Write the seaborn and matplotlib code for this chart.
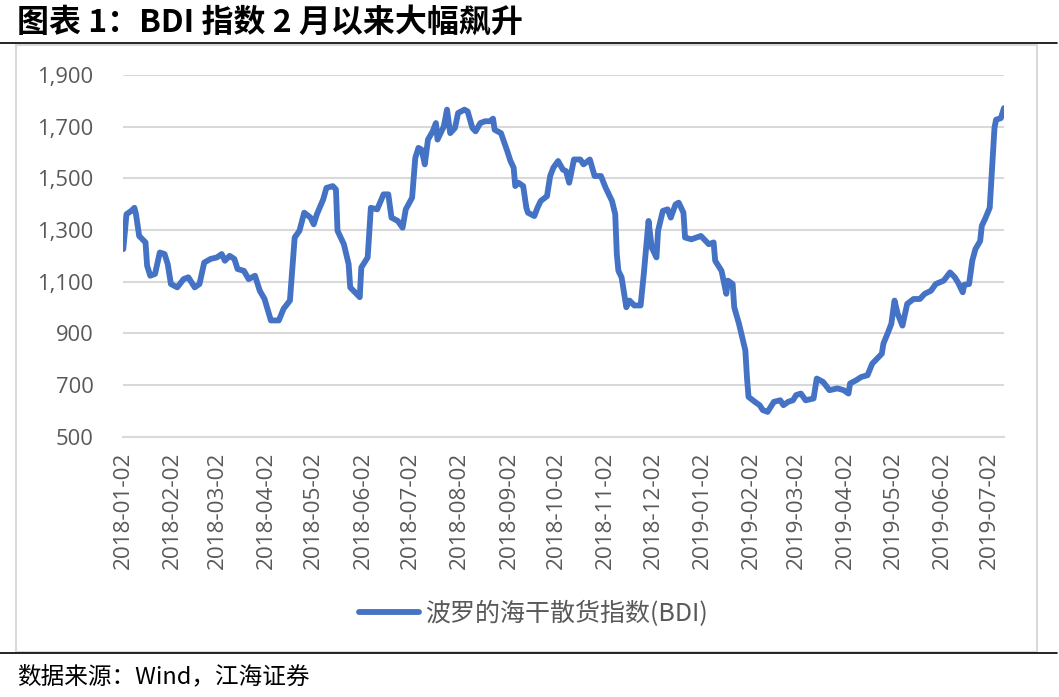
import matplotlib
matplotlib.use("Agg")
import matplotlib.pyplot as plt
from matplotlib.lines import Line2D
from matplotlib.patches import Rectangle
import seaborn as sns
import pandas as pd

title_text = "图表 1：BDI 指数 2 月以来大幅飙升"
source_text = "数据来源：Wind，江海证券"
series_name = "波罗的海干散货指数(BDI)"

dates = [
    "2018-01-02", "2018-01-04", "2018-01-07", "2018-01-09", "2018-01-10", "2018-01-12",
    "2018-01-16", "2018-01-17", "2018-01-19", "2018-01-22", "2018-01-25", "2018-01-28",
    "2018-01-30", "2018-02-01", "2018-02-05", "2018-02-09", "2018-02-12", "2018-02-16",
    "2018-02-19", "2018-02-22", "2018-02-26", "2018-03-02", "2018-03-05", "2018-03-07",
    "2018-03-10", "2018-03-13", "2018-03-15", "2018-03-19", "2018-03-22", "2018-03-26",
    "2018-03-29", "2018-04-01", "2018-04-05", "2018-04-10", "2018-04-13", "2018-04-17",
    "2018-04-20", "2018-04-23", "2018-04-26", "2018-04-30", "2018-05-02", "2018-05-04",
    "2018-05-08", "2018-05-10", "2018-05-14", "2018-05-16", "2018-05-17", "2018-05-21",
    "2018-05-24", "2018-05-25", "2018-05-28", "2018-05-31", "2018-06-01", "2018-06-05",
    "2018-06-07", "2018-06-11", "2018-06-15", "2018-06-18", "2018-06-20", "2018-06-24",
    "2018-06-27", "2018-06-29", "2018-07-03", "2018-07-05", "2018-07-07", "2018-07-09",
    "2018-07-11", "2018-07-13", "2018-07-16", "2018-07-18", "2018-07-19", "2018-07-23",
    "2018-07-25", "2018-07-27", "2018-07-30", "2018-08-01", "2018-08-05", "2018-08-07",
    "2018-08-10", "2018-08-12", "2018-08-15", "2018-08-18", "2018-08-21", "2018-08-23",
    "2018-08-24", "2018-08-28", "2018-09-01", "2018-09-03", "2018-09-05", "2018-09-06",
    "2018-09-08", "2018-09-11", "2018-09-13", "2018-09-14", "2018-09-18", "2018-09-20",
    "2018-09-22", "2018-09-26", "2018-09-28", "2018-09-30", "2018-10-03", "2018-10-06",
    "2018-10-08", "2018-10-10", "2018-10-13", "2018-10-17", "2018-10-19", "2018-10-23",
    "2018-10-26", "2018-10-30", "2018-11-02", "2018-11-06", "2018-11-08", "2018-11-09",
    "2018-11-10", "2018-11-12", "2018-11-15", "2018-11-17", "2018-11-20", "2018-11-24",
    "2018-11-26", "2018-11-29", "2018-12-01", "2018-12-04", "2018-12-05", "2018-12-08",
    "2018-12-11", "2018-12-13", "2018-12-16", "2018-12-18", "2018-12-21", "2018-12-22",
    "2018-12-26", "2019-01-01", "2019-01-04", "2019-01-06", "2019-01-09", "2019-01-10",
    "2019-01-14", "2019-01-17", "2019-01-18", "2019-01-21", "2019-01-22", "2019-01-25",
    "2019-01-27", "2019-01-29", "2019-01-30", "2019-01-31", "2019-02-04", "2019-02-07",
    "2019-02-09", "2019-02-12", "2019-02-16", "2019-02-20", "2019-02-22", "2019-02-25",
    "2019-02-28", "2019-03-02", "2019-03-05", "2019-03-08", "2019-03-13", "2019-03-15",
    "2019-03-19", "2019-03-23", "2019-03-28", "2019-04-01", "2019-04-04", "2019-04-05",
    "2019-04-09", "2019-04-12", "2019-04-16", "2019-04-19", "2019-04-22", "2019-04-25",
    "2019-04-26", "2019-04-29", "2019-05-01", "2019-05-03", "2019-05-05", "2019-05-08",
    "2019-05-11", "2019-05-15", "2019-05-19", "2019-05-22", "2019-05-26", "2019-05-29",
    "2019-06-03", "2019-06-07", "2019-06-10", "2019-06-12", "2019-06-15", "2019-06-16",
    "2019-06-19", "2019-06-21", "2019-06-23", "2019-06-26", "2019-06-27", "2019-06-29",
    "2019-07-02", "2019-07-03", "2019-07-04", "2019-07-05", "2019-07-06", "2019-07-09",
    "2019-07-11",
]

bdi = [
    1226, 1361, 1374, 1386, 1361, 1277,
    1252, 1162, 1123, 1130, 1213, 1207,
    1168, 1091, 1078, 1110, 1117, 1078,
    1091, 1174, 1188, 1194, 1207, 1181,
    1200, 1188, 1149, 1142, 1110, 1123,
    1065, 1033, 950, 950, 995, 1027,
    1271, 1297, 1367, 1348, 1322, 1361,
    1419, 1463, 1470, 1457, 1297, 1245,
    1168, 1078, 1059, 1040, 1155, 1194,
    1386, 1380, 1438, 1438, 1348, 1335,
    1309, 1380, 1425, 1579, 1618, 1611,
    1554, 1650, 1682, 1714, 1650, 1701,
    1766, 1675, 1695, 1753, 1766, 1759,
    1695, 1682, 1714, 1721, 1721, 1731,
    1688, 1675, 1605, 1567, 1541, 1470,
    1483, 1470, 1386, 1367, 1354, 1386,
    1412, 1431, 1509, 1541, 1567, 1534,
    1528, 1483, 1573, 1573, 1554, 1573,
    1509, 1509, 1463, 1412, 1361, 1207,
    1142, 1117, 1001, 1027, 1008, 1008,
    1130, 1335, 1232, 1194, 1297, 1374,
    1380, 1348, 1399, 1406, 1367, 1271,
    1264, 1277, 1258, 1245, 1252, 1181,
    1142, 1053, 1104, 1091, 1001, 937,
    885, 834, 731, 654, 635, 622,
    603, 596, 635, 641, 622, 635,
    641, 661, 667, 641, 648, 725,
    712, 680, 687, 680, 667, 706,
    719, 731, 738, 783, 802, 821,
    860, 905, 937, 1027, 976, 930,
    1014, 1033, 1033, 1053, 1065, 1091,
    1104, 1136, 1117, 1097, 1059, 1088,
    1091, 1181, 1226, 1258, 1316, 1342,
    1386, 1489, 1592, 1695, 1727, 1733,
    1772,
]

tick_dates = [
    "2018-01-02", "2018-02-02", "2018-03-02", "2018-04-02", "2018-05-02", "2018-06-02",
    "2018-07-02", "2018-08-02", "2018-09-02", "2018-10-02", "2018-11-02", "2018-12-02",
    "2019-01-02", "2019-02-02", "2019-03-02", "2019-04-02", "2019-05-02", "2019-06-02",
    "2019-07-02",
]
y_ticks = [500, 700, 900, 1100, 1300, 1500, 1700, 1900]

W, H = 1059, 697
sns.set_style("white")
plt.rcParams["font.family"] = ["Open Sans", "Noto Sans CJK SC", "DejaVu Sans"]

df = pd.DataFrame({"date": pd.to_datetime(dates), "BDI": bdi})

fig = plt.figure(figsize=(W / 100, H / 100), dpi=100)
ax = fig.add_axes([123.3 / W, 1 - 436.7 / H, (1004 - 123.3) / W, (436.7 - 75) / H])

grid_c = "#D9D9D9"
text_c = "#595959"
line_c = "#4472C4"
lw = 4.2

sns.lineplot(data=df, x="date", y="BDI", ax=ax, color=line_c, linewidth=lw,
             label=series_name, legend=False, solid_joinstyle="round", solid_capstyle="round")

ax.set_ylim(500, 1900)
ax.set_yticks(y_ticks)
ax.set_yticklabels([f"{v:,}" for v in y_ticks])
ax.set_xlim(pd.Timestamp(dates[0]), pd.Timestamp(dates[-1]))
ax.set_xticks(pd.to_datetime(tick_dates))
ax.set_xticklabels(tick_dates, rotation=90)

ax.set_xlabel("")
ax.set_ylabel("")
ax.grid(axis="y", color=grid_c, linewidth=1.5)
ax.grid(axis="x", visible=False)
ax.set_axisbelow(True)
for s in ["top", "right", "left"]:
    ax.spines[s].set_visible(False)
ax.spines["bottom"].set_color(grid_c)
ax.spines["bottom"].set_linewidth(1.5)
ax.spines["bottom"].set_zorder(1)
ax.tick_params(axis="y", length=0, pad=21.5, labelsize=15.8, labelcolor=text_c)
ax.tick_params(axis="x", length=5, width=1.5, color=grid_c, pad=5.5,
               labelsize=16.2, labelcolor=text_c, direction="out")

handles = [Line2D([0], [0], color=line_c, linewidth=lw)]
fig.legend(handles, [series_name], loc="center", bbox_to_anchor=(533 / W, 1 - 614 / H),
           frameon=False, handlelength=2.4, handletextpad=0.25,
           labelcolor=text_c, prop={"family": ["Noto Sans CJK SC"], "size": 18})

fig.text(17 / W, 1 - 23 / H, title_text, fontsize=23, fontweight="bold",
         family=["Noto Sans CJK SC"], va="center", ha="left", color="#000000")
fig.add_artist(Line2D([0, 0.998], [1 - 43.3 / H, 1 - 43.3 / H], transform=fig.transFigure,
                      color="black", linewidth=1.2))
fig.add_artist(Line2D([0, 0.998], [1 - 653.3 / H, 1 - 653.3 / H], transform=fig.transFigure,
                      color="black", linewidth=1.2))
fig.add_artist(Rectangle((16 / W, 1 - 652 / H), (1037 - 16) / W, (652 - 45) / H,
                         transform=fig.transFigure, fill=False, edgecolor=grid_c,
                         linewidth=1.5, zorder=0))
fig.text(17 / W, 1 - 677 / H, source_text, fontsize=17, family=["Noto Sans CJK SC"],
         va="center", ha="left", color="#000000")

fig.savefig("out.png", dpi=100, facecolor="white")
